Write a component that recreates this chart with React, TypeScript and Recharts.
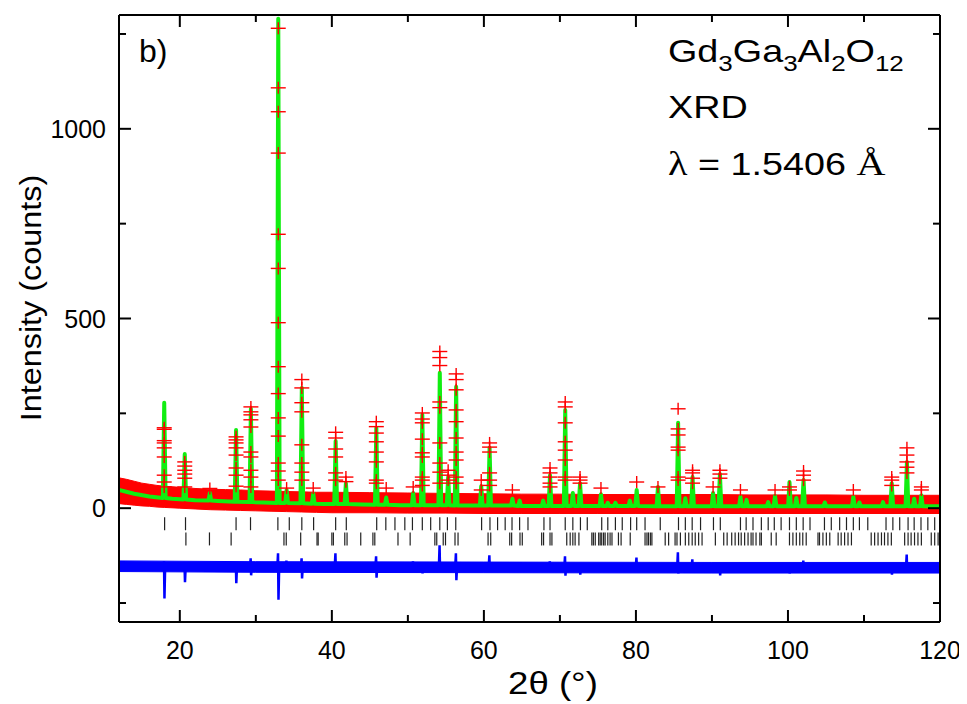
import React from 'react';
import { ComposedChart, XAxis, YAxis, Line, Area, Scatter } from 'recharts';

// ---------- axes ----------
const X_TICKS = [20, 30, 40, 50, 60, 70, 80, 90, 100, 110, 120];
const X_LABELS = [20, 40, 60, 80, 100, 120];
const Y_TICKS = [-250, 0, 250, 500, 750, 1000, 1250];
const Y_LABELS = [0, 500, 1000];
const X_DOMAIN: [number, number] = [12, 120];
const Y_DOMAIN: [number, number] = [-300, 1300];

// ---------- calculated profile (green) ----------
const calcBaseline: [number, number][] = [
  [12, 48], [14, 38], [16, 31], [19, 25], [22, 21], [25, 19], [31, 15], [39, 11], [44, 10],
  [49, 8], [58, 7], [66, 6], [74, 6], [84, 5], [96, 5], [106, 5], [111, 5], [120, 5],
];
// [position, peak top, base]
const calcPeaks: [number, number, number][] = [
  [17.95, 278, 27], [20.65, 143, 23], [23.95, 40, 20], [27.4, 206, 17], [29.35, 262, 16],
  [32.95, 1290, 14], [34.05, 48, 14], [36.05, 317, 13], [37.55, 38, 12], [40.5, 177, 11],
  [41.85, 66, 11], [45.85, 212, 9], [47.15, 28, 9], [50.7, 40, 8], [51.9, 246, 8],
  [54.2, 357, 8], [55.3, 82, 8], [56.35, 320, 7], [59.65, 58, 7], [60.75, 159, 7],
  [63.75, 25, 7], [64.7, 20, 6], [67.8, 20, 6], [68.7, 87, 6], [70.7, 259, 6],
  [71.7, 40, 6], [72.65, 66, 6], [75.4, 37, 6], [76.3, 14, 6], [77.3, 14, 6],
  [79.2, 20, 6], [80.1, 48, 6], [82.9, 56, 5], [85.55, 225, 5], [86.5, 26, 5],
  [87.45, 82, 5], [90.15, 40, 5], [91.05, 90, 5], [93.75, 30, 5], [94.55, 22, 5],
  [97.4, 16, 5], [98.3, 32, 5], [100.2, 69, 5], [101.1, 27, 5], [102.05, 74, 5],
  [104.85, 15, 5], [108.6, 30, 5], [109.4, 15, 5], [112.5, 16, 5], [113.65, 66, 5],
  [115.65, 122, 5], [116.6, 25, 5], [117.55, 34, 5],
];

// ---------- observed (red) ----------
// noise band [x, low, high]
const obsBand: [number, number, number][] = [
  [12, 12, 80], [13, 10, 76], [14, 8, 71], [15, 6, 66], [16, 5, 63], [17, 3, 60], [18, 2, 58],
  [20, 0, 55], [22, -2, 52], [24, -4, 50], [26, -5, 49], [28, -6, 48], [30, -7, 46],
  [32, -8, 45], [34, -9, 44], [36, -10, 43], [38, -11, 42], [40, -12, 42], [45, -12, 41],
  [50, -13, 40], [55, -13, 39], [60, -14, 38], [65, -14, 37], [70, -14, 37], [75, -14, 36],
  [80, -14, 36], [85, -14, 36], [90, -14, 36], [95, -14, 35], [100, -14, 35], [105, -14, 35],
  [110, -14, 34], [115, -14, 34], [120, -14, 34],
];
// observed points on the reflections: [position, counts...]
const obsPeaks: [number, number[]][] = [
  [17.95, [212, 208, 178, 172, 159, 135, 87, 69, 56]],
  [20.65, [122, 111, 100, 90, 79, 56]],
  [23.95, [52]],
  [27.4, [188, 180, 172, 159, 140, 106, 87, 58]],
  [29.35, [267, 254, 246, 233, 214, 148, 135, 100, 82, 56]],
  [32.95, [1265, 1108, 1045, 936, 722, 632, 489, 373, 302, 238, 190, 119, 98, 74]],
  [34.05, [53]],
  [36.05, [339, 317, 278, 254, 167, 119, 95, 74]],
  [37.55, [53]],
  [40.5, [200, 185, 156, 135, 93, 74]],
  [41.85, [82, 70]],
  [45.85, [228, 215, 198, 175, 148, 122, 74, 66]],
  [47.15, [53]],
  [50.7, [56]],
  [51.9, [251, 235, 225, 182, 146, 135, 82, 74, 60]],
  [54.2, [413, 397, 376, 280, 265, 172, 119, 95, 66]],
  [55.3, [100, 87, 74]],
  [56.35, [354, 339, 312, 259, 228, 185, 148, 127, 82, 66]],
  [59.65, [74, 48]],
  [60.75, [172, 161, 148, 93, 74, 60]],
  [63.75, [48]],
  [68.7, [106, 93, 82, 66, 56]],
  [70.7, [280, 267, 225, 175, 153, 127, 82, 74]],
  [72.65, [82, 74, 66]],
  [75.4, [53]],
  [80.1, [69]],
  [82.9, [56]],
  [85.55, [262, 209, 193, 161, 153, 82, 74]],
  [87.45, [100, 93, 79, 66]],
  [90.15, [56]],
  [91.05, [100, 90, 79]],
  [93.75, [48]],
  [98.3, [48]],
  [100.2, [56, 48]],
  [102.05, [98, 87, 74]],
  [108.6, [48]],
  [113.65, [82, 74, 60]],
  [115.65, [159, 140, 122, 108, 93]],
  [117.55, [56, 48]],
];

// ---------- Bragg positions ----------
const braggPhase1 = [
  18.0, 20.75, 27.4, 29.3, 32.9, 34.4, 36.05, 37.6, 40.5, 41.9, 45.9, 47.1, 48.3, 49.6, 50.6,
  51.9, 53.0, 54.2, 55.2, 56.3, 59.7, 60.8, 61.8, 62.8, 63.7, 64.7, 65.8, 67.9, 68.7, 70.7,
  71.7, 72.7, 73.6, 75.5, 76.3, 77.3, 78.2, 79.3, 80.1, 81.2, 83.2, 85.6, 86.5, 87.4, 88.5,
  90.2, 91.1, 93.75, 94.5, 95.4, 96.5, 97.4, 98.2, 99.1, 100.2, 101.1, 102.0, 102.9, 104.8,
  105.7, 106.8, 107.7, 108.6, 109.4, 110.5, 112.9, 113.8, 114.7, 115.8, 116.6, 117.5, 118.4,
  119.3,
];
const braggPhase2 = [
  20.8, 23.9, 26.75, 33.7, 34.0, 35.9, 38.05, 38.2, 40.0, 40.2, 41.7, 42.0, 43.8, 45.4, 45.65,
  48.7, 50.3, 53.55, 53.8, 54.65, 54.95, 56.2, 56.6, 60.55, 60.9, 63.4, 63.65, 64.75, 65.05,
  67.6, 67.85, 68.7, 68.95, 70.9, 71.35, 71.7, 72.0, 72.5, 74.2, 74.4, 74.65, 75.1, 75.3, 75.5,
  75.75, 75.95, 76.3, 76.6, 76.85, 77.7, 78.05, 79.25, 81.2, 81.45, 81.65, 81.9, 82.1, 83.85,
  84.3, 85.15, 85.4, 85.85, 86.5, 86.95, 87.4, 87.8, 88.25, 88.7, 90.45, 91.55, 92.0, 92.6,
  93.05, 93.5, 93.85, 94.3, 94.75, 95.15, 95.4, 95.8, 96.3, 96.5, 97.8, 98.45, 100.2, 100.65,
  101.1, 101.55, 101.95, 102.4, 103.95, 104.15, 104.6, 105.05, 105.5, 106.6, 107.0, 107.45,
  107.9, 108.35, 110.95, 111.4, 111.85, 112.3, 112.7, 113.15, 113.6, 115.35, 115.8, 116.2,
  116.65, 117.1, 117.55, 118.85, 119.3, 119.75,
];
const BRAGG_ROW1 = -41;
const BRAGG_ROW2 = -81;

// ---------- difference (blue) ----------
const DIFF_LEVEL = -155;
const diffBaseline: [number, number][] = [
  [12, -152], [16, -154], [22, -155], [31, -155], [39, -156], [48, -156], [58, -156],
  [66, -156], [76, -157], [84, -157], [96, -157], [108, -157], [120, -157],
];
const diffBand: [number, number, number][] = [
  [12, -167, -139], [30, -169, -141], [60, -170, -142], [90, -171, -143], [120, -171, -143],
];
// [position, max, min]
const diffSpikes: [number, number, number][] = [
  [17.95, -140, -238], [20.65, -150, -195], [23.95, -145, -165], [27.4, -148, -198],
  [29.35, -132, -177], [32.95, -119, -241], [34.05, -138, -165], [36.05, -132, -185],
  [40.5, -119, -164], [45.85, -127, -183], [50.7, -140, -165], [51.9, -145, -172],
  [54.2, -98, -160], [56.35, -119, -190], [60.75, -124, -165], [68.7, -140, -165],
  [70.7, -127, -178], [72.65, -148, -175], [80.1, -130, -160], [85.55, -116, -172],
  [87.45, -135, -165], [91.05, -145, -177], [100.2, -150, -172], [102.05, -138, -162],
  [113.65, -150, -175], [115.65, -122, -168],
];

// ---------- build series tables ----------
const PEAK_HALF = 0.18;
const calcData = [
  ...calcBaseline.map(([x, y]) => ({ x, y })),
  ...calcPeaks.flatMap(([p, top, base]) => [
    { x: p - PEAK_HALF, y: base },
    { x: p, y: top },
    { x: p + PEAK_HALF, y: base },
  ]),
].sort((a, b) => a.x - b.x);

const bandData = obsBand.map(([x, lo, hi]) => ({ x, band: [lo, hi] }));
const crossData = obsPeaks.flatMap(([p, ys]) => ys.map((y) => ({ x: p, y })));
const bragg1Data = braggPhase1.map((x) => ({ x, y: BRAGG_ROW1 }));
const bragg2Data = braggPhase2.map((x) => ({ x, y: BRAGG_ROW2 }));

const diffData = [
  ...diffBaseline.map(([x, y]) => ({ x, y })),
  ...diffSpikes.flatMap(([p, hi, lo]) => [
    { x: p - 0.12, y: DIFF_LEVEL },
    { x: p - 0.03, y: hi },
    { x: p + 0.03, y: lo },
    { x: p + 0.12, y: DIFF_LEVEL },
  ]),
].sort((a, b) => a.x - b.x);
const diffBandData = diffBand.map(([x, lo, hi]) => ({ x, band: [lo, hi] }));

// ---------- styling ----------
const FONT = '"Liberation Sans", Arial, Helvetica, sans-serif';
const SERIF = '"Liberation Serif", "Times New Roman", serif';
const W = 959;
const H = 696;
const STRETCH = 1.18;

const CrossShape = (props: any) => {
  const { cx, cy } = props;
  if (cx == null || cy == null) return <g />;
  return (
    <g>
      <line x1={cx - 7.5} x2={cx + 7.5} y1={cy} y2={cy} stroke="#ff0000" strokeWidth={1.4} />
      <line x1={cx} x2={cx} y1={cy - 6} y2={cy + 6} stroke="#ff0000" strokeWidth={1.4} />
    </g>
  );
};

const BraggShape = (props: any) => {
  const { cx, cy } = props;
  if (cx == null || cy == null) return <g />;
  return <line x1={cx} x2={cx} y1={cy - 6.5} y2={cy + 6.5} stroke="#222" strokeWidth={1.2} />;
};

const bottomTick = (p: any) => {
  const v = p.payload.value;
  const major = X_LABELS.includes(v);
  return (
    <g>
      <line x1={p.x} x2={p.x} y1={p.y} y2={p.y - (major ? 12 : 7)} stroke="#000" strokeWidth={2} />
      {major ? (
        <text x={p.x} y={p.y + 37} textAnchor="middle" fontSize={25} fontFamily={FONT} fill="#000">
          {v}
        </text>
      ) : null}
    </g>
  );
};
const topTick = (p: any) => {
  const v = p.payload.value;
  const major = X_LABELS.includes(v);
  return <line x1={p.x} x2={p.x} y1={p.y} y2={p.y + (major ? 12 : 7)} stroke="#000" strokeWidth={2} />;
};
const leftTick = (p: any) => {
  const v = p.payload.value;
  const major = Y_LABELS.includes(v);
  return (
    <g>
      <line x1={p.x} x2={p.x + (major ? 12 : 7)} y1={p.y} y2={p.y} stroke="#000" strokeWidth={2} />
      {major ? (
        <text x={p.x - 13} y={p.y + 9} textAnchor="end" fontSize={25} fontFamily={FONT} fill="#000">
          {v}
        </text>
      ) : null}
    </g>
  );
};
const rightTick = (p: any) => {
  const v = p.payload.value;
  const major = Y_LABELS.includes(v);
  return <line x1={p.x} x2={p.x - (major ? 12 : 7)} y1={p.y} y2={p.y} stroke="#000" strokeWidth={2} />;
};

export default function App() {
  return (
    <ComposedChart width={W} height={H} margin={{ top: 6, right: 26, bottom: 22, left: 31 }}>
      <XAxis
        xAxisId={0}
        dataKey="x"
        type="number"
        domain={X_DOMAIN}
        allowDataOverflow
        ticks={X_TICKS}
        interval={0}
        tickSize={0}
        tickMargin={0}
        tick={bottomTick}
        tickLine={false}
        axisLine={{ stroke: '#000', strokeWidth: 2 }}
        height={60}
      />
      <XAxis
        xAxisId="top"
        orientation="top"
        dataKey="x"
        type="number"
        domain={X_DOMAIN}
        allowDataOverflow
        ticks={X_TICKS}
        interval={0}
        tickSize={0}
        tickMargin={0}
        tick={topTick}
        tickLine={false}
        axisLine={{ stroke: '#000', strokeWidth: 2 }}
        height={1}
      />
      <YAxis
        yAxisId={0}
        type="number"
        domain={Y_DOMAIN}
        allowDataOverflow
        ticks={Y_TICKS}
        interval={0}
        tickSize={0}
        tickMargin={0}
        tick={leftTick}
        tickLine={false}
        axisLine={{ stroke: '#000', strokeWidth: 2 }}
        width={80}
      />
      <YAxis
        yAxisId="right"
        orientation="right"
        type="number"
        domain={Y_DOMAIN}
        allowDataOverflow
        ticks={Y_TICKS}
        interval={0}
        tickSize={0}
        tickMargin={0}
        tick={rightTick}
        tickLine={false}
        axisLine={{ stroke: '#000', strokeWidth: 2 }}
        width={1}
      />

      <Area
        data={bandData}
        dataKey="band"
        type="linear"
        stroke="#ff0000"
        strokeWidth={1}
        fill="#ff0000"
        fillOpacity={1}
        isAnimationActive={false}
      />
      <Scatter data={crossData} dataKey="y" shape={CrossShape} isAnimationActive={false} />
      <Scatter data={bragg1Data} dataKey="y" shape={BraggShape} isAnimationActive={false} />
      <Scatter data={bragg2Data} dataKey="y" shape={BraggShape} isAnimationActive={false} />
      <Area
        data={diffBandData}
        dataKey="band"
        type="linear"
        stroke="#0000ff"
        strokeWidth={1}
        fill="#0000ff"
        fillOpacity={1}
        isAnimationActive={false}
      />
      <Line
        data={diffData}
        dataKey="y"
        type="linear"
        stroke="#0000ff"
        strokeWidth={2.5}
        dot={false}
        isAnimationActive={false}
      />
      <Line
        data={calcData}
        dataKey="y"
        type="linear"
        stroke="#11ee11"
        strokeWidth={4}
        strokeLinejoin="round"
        dot={false}
        isAnimationActive={false}
      />

      <text x={131} y={54} fontSize={32} fontFamily={FONT} fill="#000">b)</text>
      <g transform={`translate(660, 54) scale(${STRETCH}, 1)`}>
        <text x={0} y={0} fontSize={32} fontFamily={FONT} fill="#000">
          Gd<tspan fontSize={22} dy={9}>3</tspan>
          <tspan dy={-9}>Ga</tspan><tspan fontSize={22} dy={9}>3</tspan>
          <tspan dy={-9}>Al</tspan><tspan fontSize={22} dy={9}>2</tspan>
          <tspan dy={-9}>O</tspan><tspan fontSize={22} dy={9}>12</tspan>
        </text>
      </g>
      <g transform={`translate(660, 110) scale(${STRETCH}, 1)`}>
        <text x={0} y={0} fontSize={32} fontFamily={FONT} fill="#000">XRD</text>
      </g>
      <g transform={`translate(660, 167) scale(${STRETCH}, 1)`}>
        <text x={0} y={0} fontSize={32} fontFamily={FONT} fill="#000">
          <tspan fontFamily={SERIF} fontSize={34}>λ</tspan> = 1.5406 <tspan fontFamily={SERIF} fontSize={34}>Å</tspan>
        </text>
      </g>
      <g transform="translate(33, 290) rotate(-90) scale(1.08, 1)">
        <text x={0} y={0} textAnchor="middle" fontSize={30} fontFamily={FONT} fill="#000">
          Intensity (counts)
        </text>
      </g>
      <g transform={`translate(545, 686) scale(${STRETCH}, 1)`}>
        <text x={0} y={0} textAnchor="middle" fontSize={31} fontFamily={FONT} fill="#000">
          2θ (°)
        </text>
      </g>
    </ComposedChart>
  );
}
